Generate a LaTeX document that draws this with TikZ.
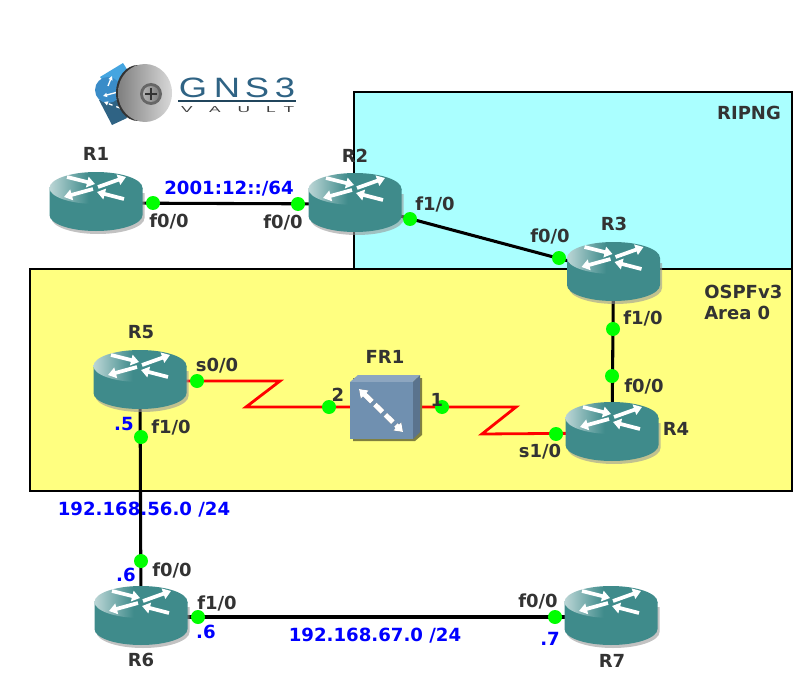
\documentclass[tikz,border=0pt]{standalone}
\usepackage{fontspec}
\setmainfont{DejaVu Sans}
\newfontfamily\logofont{Liberation Sans}
\usetikzlibrary{arrows.meta}
\definecolor{ripng}{HTML}{AAFFFF}
\definecolor{ospf}{HTML}{FFFF80}
\definecolor{routerteal}{HTML}{3F8B8B}
\definecolor{routerlight}{HTML}{BCD6D6}
\definecolor{labelgrey}{HTML}{333333}
\definecolor{frame}{HTML}{7090B0}
\definecolor{logoblue}{HTML}{2F6384}
\definecolor{logolight}{HTML}{45A5E0}
\definecolor{logomid}{HTML}{3A8CC8}
\pgfdeclarehorizontalshading{routertop}{100bp}{color(0bp)=(routerlight); color(25bp)=(routerlight); color(46bp)=(routerteal); color(100bp)=(routerteal)}
\tikzset{
  routericon/.pic={
    \fill[black!40, opacity=.6] (-44.5,-10) -- (-44.5,15) arc (180:0:46.5 and 16) -- (48.5,-10) -- cycle;
    \fill[routerteal] (-46.5,-15) -- (-46.5,12) arc (180:0:46.5 and 16) -- (46.5,-15) -- cycle;
    \path[shading=routertop] (0,-15) ellipse (46.5 and 16);
    \draw[routerarrow] (-29,-26) -- (-1,-19);
    \draw[routerarrow] (2,-16) -- (30,-26);
    \draw[routerarrow] (-3,-14) -- (-32,-6);
    \draw[routerarrow] (28,-4) -- (1,-11);
  },
  routerarrow/.style={white, line width=2.8pt, -{Triangle[width=8pt,length=6pt]}},
}
\begin{document}
\begin{tikzpicture}[x=.75pt, y=-.75pt,
  zone/.style={draw=black, line width=2.2pt},
  link/.style={black, line width=2.3pt},
  serial/.style={red, line width=2.1pt},
  port/.style={circle, fill=green, inner sep=0pt, minimum size=10.5pt},
  iface/.style={font=\bfseries\fontsize{13.5}{15}\selectfont, text=labelgrey, inner sep=0pt},
  net/.style={font=\bfseries\fontsize{13.6}{15}\selectfont, text=blue, inner sep=0pt},
  logoletter/.style={font=\logofont\fontsize{21}{21}\selectfont, text=logoblue, inner sep=0pt, xscale=1.3, transform shape},
  vaultletter/.style={font=\logofont\fontsize{6.5}{7}\selectfont, text=black!75, inner sep=0pt, xscale=2, transform shape}]
\useasboundingbox (0,0) rectangle (807,674);
% zones
\draw[zone, fill=ripng] (354,92) rectangle (792,269);
\draw[zone, fill=ospf] (30,269) rectangle (792,491);
% logo
\fill[logoblue] (99,100) -- (112,125) -- (127,118) -- (120,100) -- cycle;
\fill[logolight] (100,77) -- (123,63) -- (132,77) -- (115,95) -- cycle;
\fill[logomid] (108,90) circle (13);
\draw[white, line width=1pt, -{Triangle[width=3pt,length=3pt]}] (118,92) -- (103,96);
\draw[white, line width=1pt, -{Triangle[width=3pt,length=3pt]}] (108,86) -- (112,76);
\draw[white, line width=1pt, dashed, -{Triangle[width=3pt,length=3pt]}] (120,108) -- (104,102);
\fill[black!80] (138,93) ellipse (22 and 28);
\shade[left color=black!50, right color=black!15] (145,93) ellipse (27 and 29);
\fill[black!60] (151,94) circle (11);
\shade[left color=black!30, right color=black!50] (151,94) circle (8);
\draw[black!80, line width=1pt] (151,88) -- (151,100) (145,94) -- (157,94);
\foreach \c/\x in {G/193,N/227,S/257,3/285} \node[logoletter] (logo\c) at (\x,88) {\c};
\coordinate (rulea) at (178,101);
\coordinate (ruleb) at (296,101);
\draw[logoblue!70!black, line width=.8pt] (rulea) -- (ruleb);
\foreach \c/\x in {V/187,A/215,U/244,L/271,T/289} \node[vaultletter] (vault\c) at (\x,110) {\c};
% device centres
\foreach \n/\x/\y in {R1/96/203,R2/355/204,R3/613.5/273,R4/612/433,R5/140/381,R6/141/617,R7/611/617,FR1/381/407} \coordinate (\n) at (\x,\y);
\foreach \n/\x/\y in {k1/280/381,k2/246/407,k3/516/407,k4/482/434} \coordinate (\n) at (\x,\y);
% connectors
\foreach \x/\y in {R1/R2,R2/R3,R3/R4,R5/R6,R6/R7} \draw[link] (\x) -- (\y);
\draw[serial] (R5) -- (k1) -- (k2) -- (FR1);
\draw[serial] (FR1) -- (k3) -- (k4) -- (R4);
% routers
\foreach \n in {R1,R2,R3,R4,R5,R6,R7} \pic at (\n) {routericon};
% frame relay switch
\fill[black!50!ospf] (353,378) -- (422,378) -- (422,435) -- (415,441) -- (353,441) -- cycle;
\fill[frame!80!white] (350,382) -- (358,375) -- (420,375) -- (413,382) -- cycle;
\fill[frame!80!black] (413,382) -- (420,375) -- (420,432) -- (413,439) -- cycle;
\fill[frame] (350,382) rectangle (413,439);
\coordinate (fra) at (359,389);
\coordinate (frb) at (403,432);
\draw[black!70, line width=3.8pt, dash pattern=on 8pt off 3pt, shift={(1,-1.2)}, {Triangle[width=8pt,length=6pt]}-{Triangle[width=8pt,length=6pt]}] (fra) -- (frb);
\draw[white, line width=3.8pt, dash pattern=on 8pt off 3pt, {Triangle[width=8pt,length=6pt]}-{Triangle[width=8pt,length=6pt]}] (fra) -- (frb);
% ports
\foreach \n/\x/\y in {pa/153/203,pb/298/204,pc/410/219,pd/559/258,pe/613/329,pf/612/376,pg/556/434,ph/197/381,pi/141/437,pj/141/561,pk/198/617,pl/555/617,pm/329/407,pn/442/407} \node[port] (\n) at (\x,\y) {};
% interface labels
\foreach \n/\x/\y/\t in {la/96/154/R1,lb/355/156/R2,lc/614/224/R3,ld/676/429/R4,le/141/332/R5,lf/141/660/R6,lg/612/661/R7,lh/385/357/FR1,
  li/169/221/f0\slash 0,lj/283/222/f0\slash 0,lk/435/204/f1\slash 0,ll/550/236/f0\slash 0,lm/643/318/f1\slash 0,ln/644/386/f0\slash 0,
  lo/540/452/s1\slash 0,lp/217/366/s0\slash 0,lq/171/427/f1\slash 0,lr/172/570/f0\slash 0,ls/217/603/f1\slash 0,lt/538/601/f0\slash 0,
  lu/338/395/2,lv/437/400/1,lw/749/113/RIPNG}
  \node[iface] (\n) at (\x,\y) {\t};
\node[iface, anchor=west] (ox) at (704,292) {OSPFv3};
\node[iface, anchor=west] (ar) at (704,313) {Area 0};
% network labels
\foreach \n/\x/\y/\t in {na/229/188.5/2001:12::\slash 64,nb/124/424/.5,nc/144/509.5/192.168.56.0 \slash 24,nd/126/575/.6,ne/206/632/.6,nf/375/635.5/192.168.67.0 \slash 24,ng/550/639/.7}
  \node[net] (\n) at (\x,\y) {\t};
\end{tikzpicture}
\end{document}
